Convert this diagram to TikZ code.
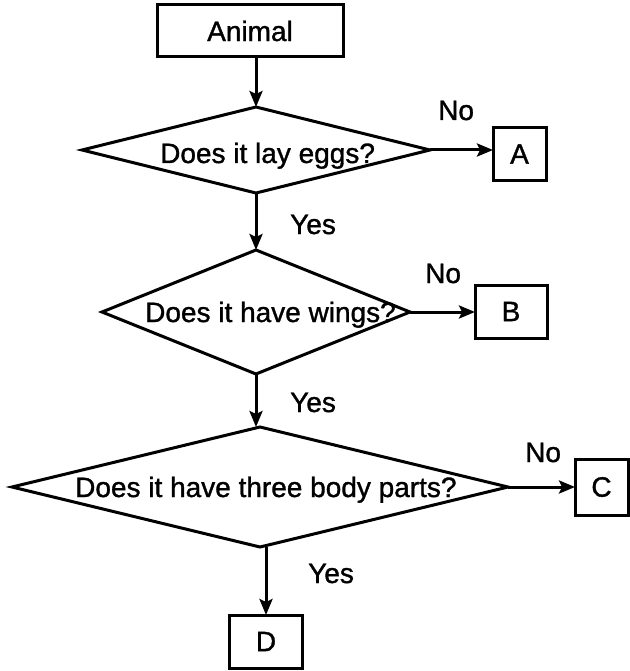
\documentclass[tikz,border=0pt]{standalone}
\usepackage{fontspec}
\setmainfont{Liberation Sans}
\newfontfamily\heavyfont[FakeBold=1.2]{Liberation Sans}
\usetikzlibrary{shapes.geometric,arrows.meta}
\begin{document}
\begin{tikzpicture}[x=1pt,y=-1pt,
  every node/.style={font=\heavyfont\fontsize{28}{32}\selectfont},
  box/.style={draw, line width=3pt, rectangle, inner sep=0pt, outer sep=0pt},
  dia/.style={draw, line width=3pt, diamond, inner sep=0pt, outer sep=0pt},
  lbl/.style={inner sep=0pt, anchor=base west},
  arr/.style={line width=3pt, -{Stealth[length=16pt,width=13pt,inset=3pt]}}]
\useasboundingbox (0,0) rectangle (629,671);

% boxes
\node[box, minimum width=186pt, minimum height=52pt] (animal) at (250,31) {Animal};
\node[box, minimum width=53pt, minimum height=52pt] (A) at (519.5,154) {A};
\node[box, minimum width=72pt, minimum height=53pt] (B) at (511,311.5) {B};
\node[box, minimum width=53pt, minimum height=56pt] (C) at (601.5,487) {C};
\node[box, minimum width=73pt, minimum height=53pt] (D) at (266,641.5) {D};

% diamonds (shape only)
\node[dia, minimum width=348pt, minimum height=86pt] (d1) at (256,150) {};
\node[dia, minimum width=308pt, minimum height=124pt] (d2) at (256,312) {};
\node[dia, minimum width=496pt, minimum height=120pt] (d3) at (260,487) {};

% diamond texts
\node[lbl] (t1) at (160,163) {Does it lay eggs?};
\node[lbl] (t2) at (145,322) {Does it have wings?};
\node[lbl] (t3) at (75,497) {Does it have three body parts?};

% branch labels
\node[lbl] (no1) at (438,120) {No};
\node[lbl] (no2) at (425,283) {No};
\node[lbl] (no3) at (525,462) {No};
\node[lbl] (yes1) at (290,234) {Yes};
\node[lbl] (yes2) at (290,412) {Yes};
\node[lbl] (yes3) at (308,583) {Yes};

% connectors
\draw[arr] (animal.south -| d1.north) -- (d1.north);
\draw[arr] (d1.south) -- (d2.north);
\draw[arr] (d2.south) -- (d2.south |- d3.north);
\draw[arr] (d3.south -| D.north) -- (D.north);
\draw[arr] (d1.east) -- (d1.east -| A.west);
\draw[arr] (d2.east) -- (d2.east -| B.west);
\draw[arr] (d3.east) -- (d3.east -| C.west);
\end{tikzpicture}
\end{document}
